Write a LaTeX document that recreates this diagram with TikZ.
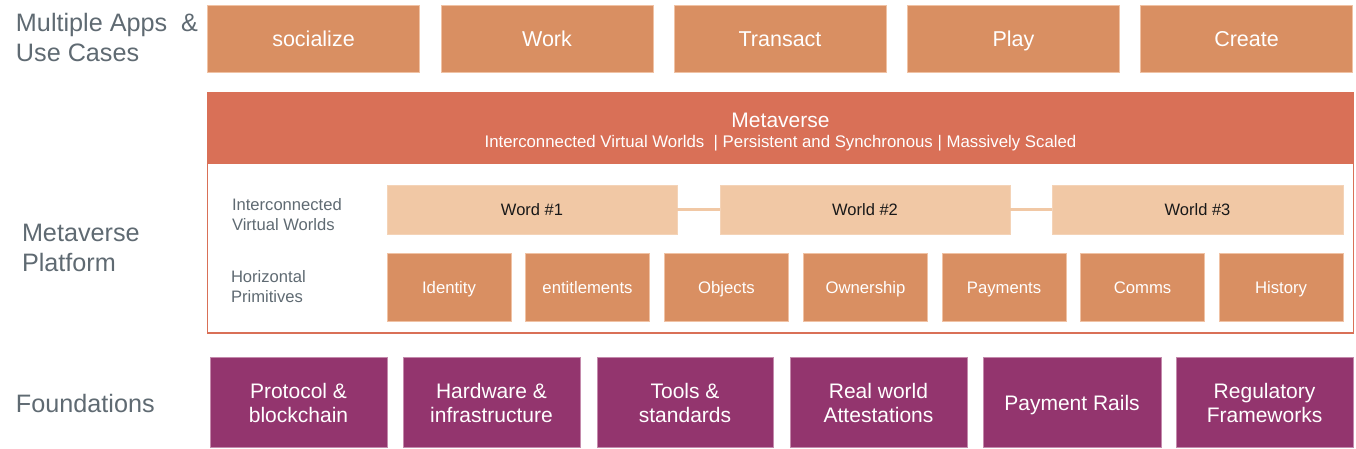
\documentclass[tikz,border=0pt]{standalone}
\usepackage{fontspec}
\setmainfont{Liberation Sans}
\definecolor{appfill}{HTML}{D98F62}
\definecolor{appline}{HTML}{F0C2A4}
\definecolor{headfill}{HTML}{D97057}
\definecolor{worldfill}{HTML}{F1C8A5}
\definecolor{foundfill}{HTML}{93356E}
\definecolor{foundline}{HTML}{C48AAC}
\definecolor{labelgray}{HTML}{5F6A72}
\begin{document}
\begin{tikzpicture}[x=1pt,y=-1pt,
  every node/.style={inner sep=0pt,outer sep=0pt},
  appbox/.style={fill=appfill,draw=appline,line width=0.8pt,text=white,
     text height=15.4pt,text depth=0pt,font=\fontsize{21.5}{25}\selectfont},
  primbox/.style={fill=appfill,draw=appline,line width=0.8pt,text=white,
     text height=12pt,text depth=0pt,font=\fontsize{16.7}{19}\selectfont},
  worldbox/.style={fill=worldfill,draw=worldfill!80!white,line width=0.8pt,text=black!90,
     text height=11.8pt,text depth=0pt,font=\fontsize{16.5}{19}\selectfont},
  foundbox/.style={fill=foundfill,draw=foundline,line width=0.8pt,text=white,
     align=center,text height=39pt,text depth=0pt,font=\fontsize{21}{24}\selectfont},
  biglabel/.style={text=labelgray,align=left,anchor=base west,font=\fontsize{25.2}{30}\selectfont},
  smalllabel/.style={text=labelgray,align=left,anchor=base west,font=\fontsize{16.6}{20}\selectfont},
  worldlink/.style={draw=worldfill,line width=3pt}
]
\useasboundingbox (0,0) rectangle (1356,449);

% Left labels (base anchor = baseline of last line)
\node[biglabel] (lapps) at (16,61.7) {Multiple Apps\ \ \&\\Use Cases};
\node[biglabel] (lplat) at (22,271.5) {Metaverse\\Platform};
\node[biglabel] (lfound) at (16,412) {Foundations};

% Top row apps
\node[appbox,minimum width=212pt,minimum height=67pt] (a1) at (313.5,38.5) {socialize};
\node[appbox,minimum width=212pt,minimum height=67pt] (a2) at (547,38.5) {Work};
\node[appbox,minimum width=212pt,minimum height=67pt] (a3) at (780,38.5) {Transact};
\node[appbox,minimum width=212pt,minimum height=67pt] (a4) at (1013.5,38.5) {Play};
\node[appbox,minimum width=212pt,minimum height=67pt] (a5) at (1246.5,38.5) {Create};

% Metaverse platform frame
\node[draw=headfill,line width=1.8pt,minimum width=1146pt,minimum height=240pt] (frame) at (780.5,213) {};
\node[fill=headfill,minimum width=1147pt,minimum height=71pt] (head) at (780.5,128.5) {};
\node[text=white,anchor=base,font=\fontsize{21}{24}\selectfont] (htitle) at (780.5,127.5) {Metaverse};
\node[text=white,anchor=base,font=\fontsize{16.8}{19}\selectfont] (hsub) at (780.5,148)
  {Interconnected Virtual Worlds\ \ | Persistent and\ Synchronous | Massively Scaled};

% Inner labels
\node[smalllabel] (lworlds) at (232,230) {Interconnected\\Virtual Worlds};
\node[smalllabel] (lprims) at (231,302.3) {Horizontal\\Primitives};

% Worlds
\node[worldbox,minimum width=290pt,minimum height=49pt] (w1) at (532,209.5) {Word \#1};
\node[worldbox,minimum width=290pt,minimum height=49pt] (w2) at (865,209.5) {World \#2};
\node[worldbox,minimum width=291pt,minimum height=49pt] (w3) at (1197.5,209.5) {World \#3};
\draw[worldlink] (w1.east) -- (w2.west);
\draw[worldlink] (w2.east) -- (w3.west);

% Primitives
\node[primbox,minimum width=124pt,minimum height=68pt] (p1) at (449,287) {Identity};
\node[primbox,minimum width=124pt,minimum height=68pt] (p2) at (587.5,287) {entitlements};
\node[primbox,minimum width=124pt,minimum height=68pt] (p3) at (726.5,287) {Objects};
\node[primbox,minimum width=124pt,minimum height=68pt] (p4) at (865.5,287) {Ownership};
\node[primbox,minimum width=124pt,minimum height=68pt] (p5) at (1004,287) {Payments};
\node[primbox,minimum width=124pt,minimum height=68pt] (p6) at (1142.5,287) {Comms};
\node[primbox,minimum width=124pt,minimum height=68pt] (p7) at (1281,287) {History};

% Foundations
\node[foundbox,minimum width=177pt,minimum height=90pt] (f1) at (298.5,402.5) {Protocol \&\\blockchain};
\node[foundbox,minimum width=177pt,minimum height=90pt] (f2) at (491.5,402.5) {Hardware \&\\infrastructure};
\node[foundbox,minimum width=176pt,minimum height=90pt] (f3) at (685,402.5) {Tools \&\\standards};
\node[foundbox,minimum width=177pt,minimum height=90pt] (f4) at (878.5,402.5) {Real world\\Attestations};
\node[foundbox,minimum width=178pt,minimum height=90pt,text height=15pt] (f5) at (1072,402.5) {Payment Rails};
\node[foundbox,minimum width=177pt,minimum height=90pt] (f6) at (1264.5,402.5) {Regulatory\\Frameworks};
\end{tikzpicture}
\end{document}
